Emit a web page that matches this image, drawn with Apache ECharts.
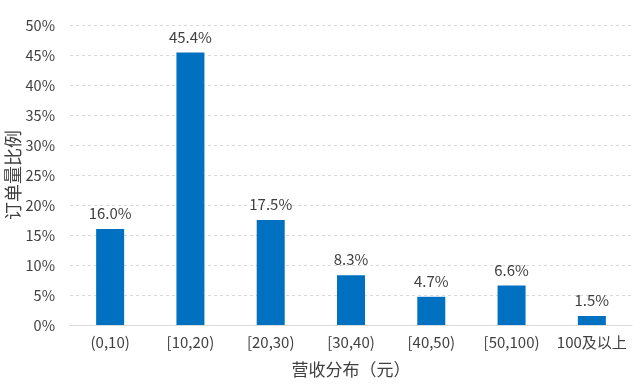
<!DOCTYPE html>
<html><head><meta charset="utf-8">
<script src="https://cdn.jsdelivr.net/npm/echarts@6/dist/echarts.min.js"></script>
<style>html,body{margin:0;padding:0;background:#fff}#c{width:640px;height:384px}</style>
</head><body><div id="c"></div>
<script>
var categories = ['(0,10)', '[10,20)', '[20,30)', '[30,40)', '[40,50)', '[50,100)', '100及以上'];
var values = [16.0, 45.4, 17.5, 8.3, 4.7, 6.6, 1.5];
var yTicks = [0, 5, 10, 15, 20, 25, 30, 35, 40, 45, 50];
var xName = '营收分布（元）';
var yName = '订单量比例';

var font = '"Microsoft YaHei","Noto Sans CJK SC","Noto Sans",sans-serif';
var chart = echarts.init(document.getElementById('c'));
chart.setOption({
  animation: false,
  textStyle: {fontFamily: font},
  grid: {left: 70, right: 8, top: 25, bottom: 59, containLabel: false, outerBoundsMode: 'none'},
  xAxis: {
    type: 'category', data: categories,
    name: xName, nameLocation: 'middle', nameGap: 36, nameMoveOverlap: false,
    nameTextStyle: {fontSize: 17, color: '#404040', fontFamily: font},
    axisLine: {lineStyle: {color: '#D9D9D9', width: 1}},
    axisTick: {show: false},
    axisLabel: {fontSize: 15, color: '#404040', margin: 10, interval: 0, hideOverlap: false, fontFamily: font}
  },
  yAxis: {
    type: 'value', min: yTicks[0], max: yTicks[yTicks.length - 1], interval: 5,
    name: yName, nameLocation: 'middle', nameGap: 48, nameRotate: 90, nameMoveOverlap: false,
    nameTextStyle: {fontSize: 18, color: '#404040', fontFamily: font},
    axisLine: {show: false}, axisTick: {show: false},
    axisLabel: {fontSize: 14.5, color: '#404040', margin: 15, formatter: '{value}%', fontFamily: font},
    splitLine: {lineStyle: {color: '#D9D9D9', type: [3, 3]}}
  },
  series: [{
    type: 'bar', data: values, barWidth: 28,
    itemStyle: {color: '#0070C0'},
    label: {show: true, position: 'top', distance: 8, fontSize: 15, color: '#404040',
      fontFamily: font,
      formatter: function (p) { return p.value.toFixed(1) + '%'; }}
  }]
});
</script></body></html>
